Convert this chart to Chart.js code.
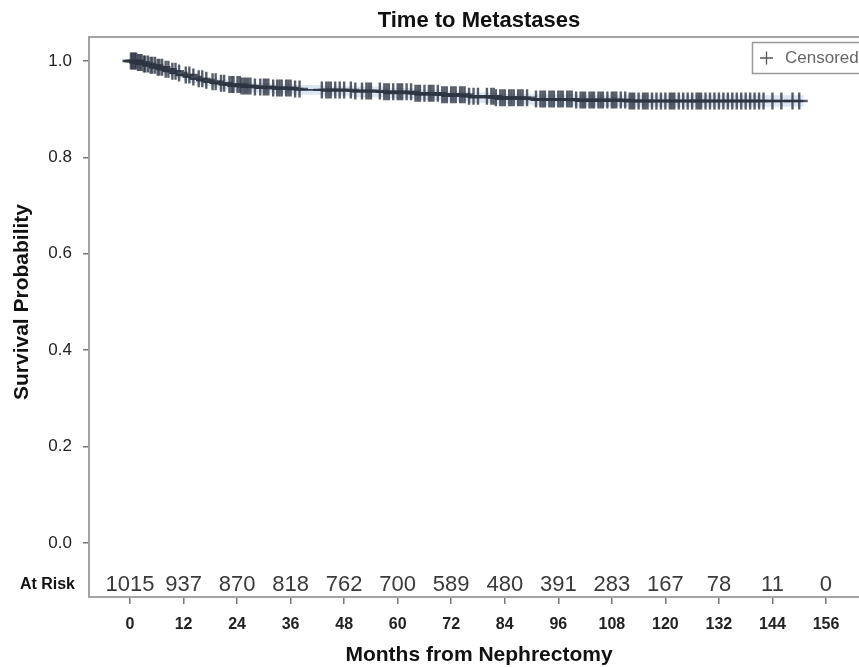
<!DOCTYPE html>
<html>
<head>
<meta charset="utf-8">
<script src="https://cdn.jsdelivr.net/npm/chart.js@4.4.0/dist/chart.umd.min.js"></script>
<style>
body { margin: 0; background: #fff; overflow: hidden; }
</style>
</head>
<body>
<canvas id="kmChart" width="859" height="667"></canvas>
<script>
// curva (meses, probabilidad)
const meses_evento = [0, 1.5, 3, 4.5, 6, 7.5, 9, 10.5, 12, 13.5, 15, 16.5, 18, 20, 22, 25, 28, 32, 37, 43, 50, 57, 64, 70, 76, 82, 90, 100, 112, 151]
const supervivencia = [1.000, 0.997, 0.994, 0.991, 0.987, 0.983, 0.979, 0.975, 0.971, 0.967, 0.963, 0.960, 0.957, 0.954, 0.951, 0.948, 0.946, 0.944, 0.942, 0.940, 0.938, 0.936, 0.933, 0.930, 0.927, 0.924, 0.921, 0.919, 0.917, 0.917]
const ic_inferior = [1.000, 0.995, 0.991, 0.987, 0.983, 0.978, 0.973, 0.968, 0.964, 0.959, 0.955, 0.951, 0.948, 0.945, 0.941, 0.938, 0.936, 0.934, 0.932, 0.930, 0.928, 0.925, 0.922, 0.919, 0.916, 0.913, 0.910, 0.907, 0.905, 0.905]
const ic_superior = [1.000, 0.999, 0.997, 0.995, 0.991, 0.988, 0.985, 0.982, 0.978, 0.975, 0.971, 0.969, 0.966, 0.963, 0.961, 0.958, 0.956, 0.954, 0.952, 0.950, 0.948, 0.947, 0.944, 0.941, 0.938, 0.935, 0.932, 0.931, 0.929, 0.929]

// meses de las observaciones censuradas
const meses_censura = [0.2, 0.5, 0.8, 1.1, 1.4, 1.8, 2.2, 2.6, 3.1, 3.4, 4, 4.6, 5, 5.6, 6.2, 6.6, 7.2, 8, 8.6, 9.5, 10.2, 11, 12.5, 13.3, 14.2, 15.4, 16.2, 17.1, 18.5, 19.2, 20.4, 21.1, 22.3, 22.8, 23.2, 24.1, 24.6, 25, 25.5, 26, 26.5, 27, 28, 29.2, 30, 30.5, 31, 32.1, 33, 33.5, 34, 35, 35.5, 36, 37, 38, 43, 44, 44.5, 45, 46, 47, 48, 49.5, 50.5, 52, 53, 53.5, 54, 56, 57, 57.5, 58, 59, 60, 60.5, 61, 62, 63, 64, 64.5, 65, 66, 67, 67.5, 68, 69, 70, 70.5, 71, 72, 72.5, 73, 74, 74.5, 75, 76, 77, 78, 80, 81, 81.5, 82, 83, 83.5, 84, 85, 85.5, 86, 87, 87.5, 88, 89, 91, 92, 92.5, 93, 94, 94.5, 95, 96, 96.5, 97, 98, 98.5, 99, 100, 101, 101.5, 102, 103, 103.5, 104, 105, 105.5, 106, 107, 108, 108.5, 109, 110, 111, 112, 112.5, 113, 114, 115, 115.5, 116, 117, 118, 119, 120, 121, 121.5, 122, 123, 124, 125, 126, 127, 127.5, 128, 129, 130, 131, 132, 133, 134, 135, 136, 137, 138, 139, 140, 141, 142, 144, 146, 148.5, 150]

const meses_ticks = [0, 12, 24, 36, 48, 60, 72, 84, 96, 108, 120, 132, 144, 156]
const en_riesgo = [1015, 937, 870, 818, 762, 700, 589, 480, 391, 283, 167, 78, 11, 0]
const prob_ticks = [0.0, 0.2, 0.4, 0.6, 0.8, 1.0]

const fuente = '"Liberation Sans", Arial, sans-serif'
const color_curva = '#323d4c'

function puntos(xs, ys) {
    return xs.map((x, i) => ({ x: x, y: ys[i] }))
}

function supervivencia_en(t) {
    let s = supervivencia[0]
    for (let i = 0; i < meses_evento.length; i++) {
        if (meses_evento[i] <= t) s = supervivencia[i]
    }
    return s
}

const textos = {
    id: 'textos',
    afterDraw(chart) {
        const ctx = chart.ctx
        const x = chart.scales.x
        const area = chart.chartArea
        ctx.save()

        // marco superior del area
        ctx.strokeStyle = '#a3a3a3'
        ctx.lineWidth = 2
        ctx.beginPath()
        ctx.moveTo(area.left, area.top)
        ctx.lineTo(area.right, area.top)
        ctx.stroke()

        ctx.fillStyle = '#111'
        ctx.textAlign = 'center'
        ctx.textBaseline = 'middle'
        ctx.font = `bold 22px ${fuente}`
        ctx.fillText('Time to Metastases', 479, 21)
        ctx.font = `bold 21px ${fuente}`
        ctx.fillText('Months from Nephrectomy', 479, 655)

        ctx.save()
        ctx.translate(22, 302)
        ctx.rotate(-Math.PI / 2)
        ctx.fillText('Survival Probability', 0, 0)
        ctx.restore()

        // fila de pacientes en riesgo
        ctx.font = `bold 16px ${fuente}`
        ctx.textAlign = 'right'
        ctx.fillText('At Risk', 75, 585)
        ctx.font = `22px ${fuente}`
        ctx.textAlign = 'center'
        ctx.fillStyle = '#3a3a3a'
        meses_ticks.forEach((m, i) => {
            ctx.fillText(String(en_riesgo[i]), x.getPixelForValue(m), 585)
        })

        // leyenda
        ctx.strokeStyle = '#999'
        ctx.lineWidth = 1.5
        ctx.strokeRect(752.5, 42.5, 120, 31)
        ctx.strokeStyle = '#555'
        ctx.lineWidth = 1.3
        ctx.beginPath()
        ctx.moveTo(760, 58); ctx.lineTo(773, 58)
        ctx.moveTo(766.5, 51.5); ctx.lineTo(766.5, 64.5)
        ctx.stroke()
        ctx.fillStyle = '#666'
        ctx.textAlign = 'left'
        ctx.font = `17px ${fuente}`
        ctx.fillText('Censored', 785, 58)
        ctx.restore()
    }
}

function dibujar_grafico() {
    const censura = meses_censura.map(m => ({ x: m, y: supervivencia_en(m) }))
    new Chart(document.getElementById('kmChart'), {
        type: 'line',
        data: {
            datasets: [
                {
                    label: 'Censored',
                    data: censura,
                    showLine: false,
                    pointStyle: 'cross',
                    pointRadius: 8.5,
                    pointBorderWidth: 2.4,
                    pointBorderColor: 'rgba(45,53,66,0.8)',
                    order: 0
                },
                {
                    label: 'KM',
                    data: puntos(meses_evento, supervivencia),
                    stepped: 'after',
                    borderColor: color_curva,
                    borderWidth: 1.8,
                    pointRadius: 0,
                    order: 1
                },
                {
                    label: 'IC sup',
                    data: puntos(meses_evento, ic_superior),
                    stepped: 'after',
                    borderWidth: 0,
                    pointRadius: 0,
                    backgroundColor: '#dde7f3',
                    fill: '+1',
                    order: 2
                },
                {
                    label: 'IC inf',
                    data: puntos(meses_evento, ic_inferior),
                    stepped: 'after',
                    borderWidth: 0,
                    pointRadius: 0,
                    order: 3
                }
            ]
        },
        options: {
            responsive: false,
            animation: false,
            layout: { autoPadding: false, padding: { top: 37, right: 0, left: 0, bottom: 0 } },
            plugins: { legend: { display: false }, tooltip: { enabled: false }, title: { display: false } },
            scales: {
                x: {
                    type: 'linear',
                    min: -9.19,
                    max: 163.4,
                    afterBuildTicks: s => { s.ticks = meses_ticks.map(v => ({ value: v })) },
                    afterFit: s => { s.height = 70; s.paddingLeft = 0; s.paddingRight = 0 },
                    grid: { drawOnChartArea: false, drawTicks: true, tickLength: 7, color: '#777', lineWidth: 1.5 },
                    border: { display: true, color: '#a3a3a3', width: 2 },
                    ticks: { color: '#222', padding: 11, maxRotation: 0, autoSkip: false, font: { family: fuente, size: 16, weight: 'bold' } }
                },
                y: {
                    type: 'linear',
                    min: -0.112,
                    max: 1.0498,
                    afterBuildTicks: s => { s.ticks = prob_ticks.map(v => ({ value: v })) },
                    afterFit: s => { s.width = 89; s.paddingTop = 0; s.paddingBottom = 0 },
                    grid: { drawOnChartArea: false, drawTicks: true, tickLength: 6, color: '#777', lineWidth: 1.5 },
                    border: { display: true, color: '#a3a3a3', width: 2 },
                    ticks: { color: '#222', padding: 11, callback: v => v.toFixed(1), font: { family: fuente, size: 17 } }
                }
            }
        },
        plugins: [textos]
    })
}

dibujar_grafico()
</script>
</body>
</html>
